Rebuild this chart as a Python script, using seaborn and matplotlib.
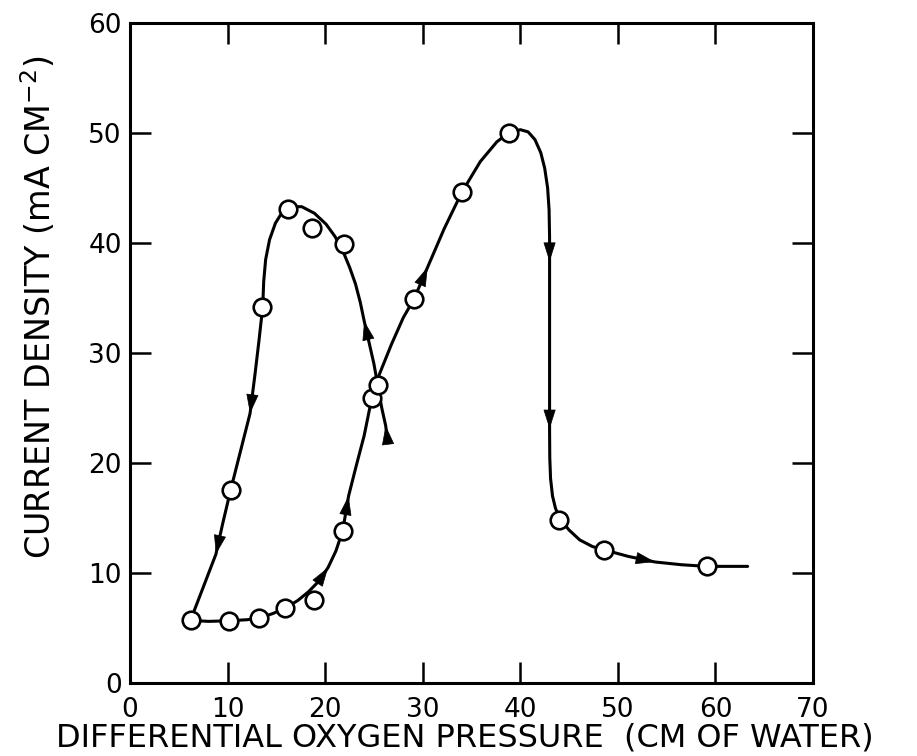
import numpy as np
import pandas as pd
import seaborn as sns
import matplotlib.pyplot as plt

# --- values ---

# increasing-pressure sweep (drawn curve)
up_x = [6.2, 8.0, 10.1, 12.0, 13.2, 14.6, 15.9, 17.2, 18.3, 19.4, 20.3, 21.1, 21.8,
        22.4, 23.2, 24.0, 24.8, 25.3, 26.8, 28.0, 29.1, 30.5, 32.2, 34.0, 35.9,
        37.6, 38.8, 40.0, 40.8, 41.5, 42.1, 42.5, 42.8, 42.95, 43.0, 43.0, 43.0,
        43.0, 43.02, 43.1, 43.3, 43.6, 44.0, 45.0, 46.1, 47.4, 48.6, 51.1, 53.8,
        56.5, 59.1, 63.3]
up_y = [5.7, 5.6, 5.65, 5.75, 5.9, 6.3, 6.8, 7.5, 8.3, 9.3, 10.5, 12.0, 13.85,
        17.0, 19.8, 22.5, 26.0, 27.5, 30.8, 33.2, 34.9, 37.8, 41.3, 44.6, 47.4,
        49.2, 50.0, 50.3, 50.1, 49.4, 48.2, 46.8, 45.0, 43.0, 40.5, 38.3, 30.0,
        23.1, 20.5, 18.6, 17.0, 15.9, 15.0, 13.9, 13.0, 12.4, 12.1, 11.5, 11.0,
        10.75, 10.6, 10.6]
up_arrows = [10, 13, 21, 35, 37, 48]

# decreasing-pressure sweep (drawn curve, starts at the small wedge)
down_x = [26.4, 26.2, 25.8, 25.3, 25.0, 24.0, 23.6, 23.1, 22.5, 21.8, 21.0, 20.1,
          18.9, 17.6, 16.5, 15.6, 14.9, 14.3, 13.9, 13.7, 13.6, 13.2, 12.8, 12.3,
          11.3, 10.3, 9.5, 8.8, 7.5, 6.2]
down_y = [22.0, 23.4, 25.0, 27.5, 29.0, 32.9, 34.6, 36.3, 37.8, 39.3, 40.6, 41.7,
          42.7, 43.3, 43.3, 42.8, 41.8, 40.3, 38.5, 36.5, 34.2, 31.0, 28.0, 24.5,
          21.0, 17.5, 14.5, 11.7, 8.7, 5.7]
down_arrows = [1, 5, 23, 27]

# measured points (open circles)
pts_x = [6.2, 10.1, 13.2, 15.9, 18.9, 21.8, 24.8, 25.4, 29.1, 34.0, 38.8, 44.0,
         48.6, 59.1, 10.3, 13.5, 16.2, 18.6, 21.9]
pts_y = [5.7, 5.65, 5.9, 6.8, 7.5, 13.85, 25.9, 27.1, 34.9, 44.6, 50.0, 14.8,
         12.1, 10.6, 17.5, 34.2, 43.1, 41.4, 39.9]

x_ticks = [0, 10, 20, 30, 40, 50, 60, 70]
y_ticks = [0, 10, 20, 30, 40, 50, 60]

sns.set_style("ticks")
plt.rcParams['font.family'] = ['DejaVu Sans']
plt.rcParams['text.color'] = 'black'
plt.rcParams['axes.labelcolor'] = 'black'
plt.rcParams['xtick.color'] = 'black'
plt.rcParams['ytick.color'] = 'black'

fig = plt.figure(figsize=(9.17, 7.56), dpi=100)
ax = fig.add_axes([0.1418, 0.0966, 0.7448, 0.873])

# curves with direction arrows
for cx, cy, arr in [(up_x, up_y, up_arrows), (down_x, down_y, down_arrows)]:
    sns.lineplot(x=cx, y=cy, sort=False, estimator=None, color='black',
                 linewidth=2.2, ax=ax)
    for i in arr:
        ax.annotate('', xy=(cx[i], cy[i]), xytext=(cx[i - 1], cy[i - 1]),
                    arrowprops=dict(arrowstyle='-|>,head_length=0.85,head_width=0.27',
                                    color='black', lw=0.5, shrinkA=0, shrinkB=0,
                                    mutation_scale=15))

sns.scatterplot(x=pts_x, y=pts_y, s=160, color='white', edgecolor='black',
                linewidth=1.9, zorder=5, ax=ax)

ax.set_xlim(0, 70)
ax.set_ylim(0, 60)
ax.set_xticks(x_ticks)
ax.set_yticks(y_ticks)
ax.tick_params(direction='in', length=15, width=1.8, labelsize=19,
               top=True, right=True)
ax.tick_params(axis='x', pad=10)
ax.tick_params(axis='y', pad=6)
for s in ax.spines.values():
    s.set_linewidth(2.2)
    s.set_color('black')

ax.set_xlabel('DIFFERENTIAL OXYGEN PRESSURE  (CM OF WATER)', fontsize=23)
ax.set_ylabel(r'CURRENT DENSITY (mA CM$^{-2}$)', fontsize=24)
ax.xaxis.set_label_coords(0.49, -0.060)
ax.yaxis.set_label_coords(-0.105, 0.57)

fig.savefig('out.png', dpi=100)
